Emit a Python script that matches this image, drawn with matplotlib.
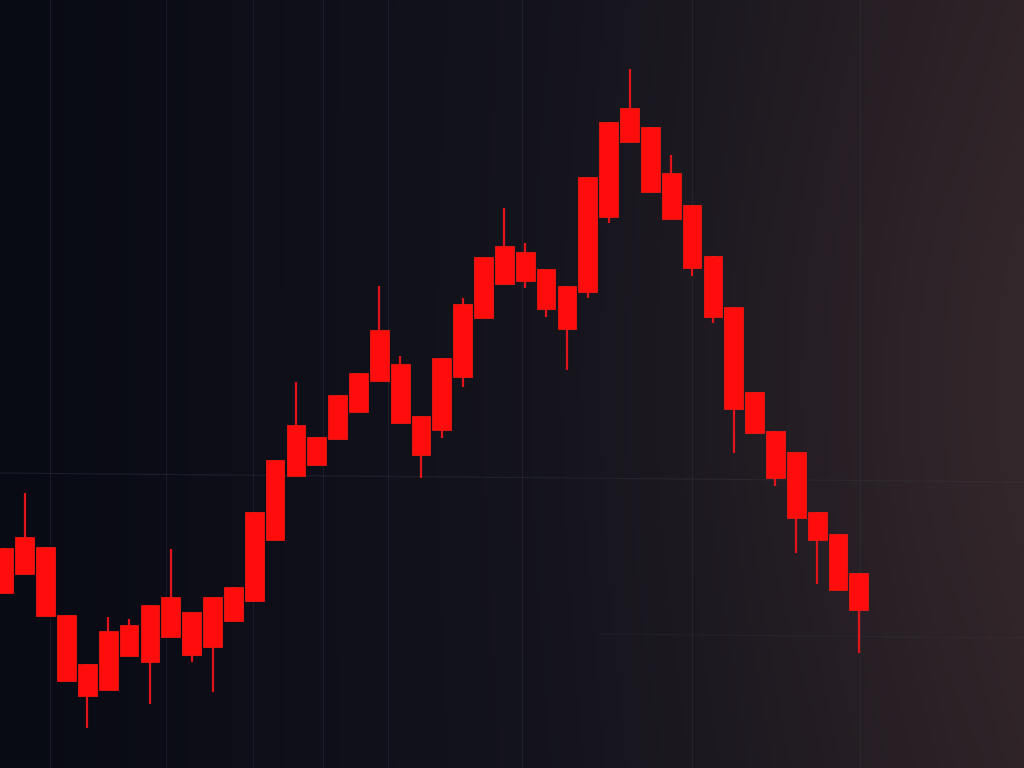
import numpy as np
import matplotlib.pyplot as plt

# Candle data (price units), all candles are down (red)
opens = [220, 231, 221, 153, 104, 137, 143, 163, 171, 156, 171, 181, 256, 308,
         343, 331, 373, 395, 438, 404, 352, 410, 464, 511, 522, 516, 499, 482,
         591, 646, 660, 641, 595, 563, 512, 461, 376, 337, 316, 256, 234, 195]
closes = [175, 194, 152, 87, 72, 78, 112, 106, 131, 113, 121, 147, 167, 228,
          292, 303, 329, 356, 387, 345, 313, 338, 391, 450, 484, 487, 459, 439,
          476, 551, 626, 576, 549, 500, 451, 359, 335, 290, 250, 228, 178, 158]
highs = [220, 275, 221, 153, 104, 151, 149, 163, 219, 156, 171, 181, 256, 308,
         386, 331, 373, 395, 482, 412, 352, 410, 470, 511, 560, 525, 499, 482,
         591, 646, 699, 641, 613, 563, 512, 461, 376, 337, 316, 256, 234, 195]
lows = [175, 194, 152, 87, 40, 78, 112, 64, 131, 106, 76, 147, 167, 228,
        292, 303, 329, 356, 387, 345, 290, 330, 381, 450, 484, 480, 451, 398,
        470, 545, 626, 576, 549, 492, 445, 315, 335, 282, 215, 184, 178, 115]

W, H = 1024, 768
fig = plt.figure(figsize=(10.24, 7.68), dpi=100)

# background gradient: deep navy on the left, warm dark brown on the right
bg = fig.add_axes([0, 0, 1, 1])
xs = np.linspace(0, 1, 256)
ys = np.linspace(0, 1, 192)
X, Y = np.meshgrid(xs, ys)
left = np.array([8, 10, 20]) / 255
mid = np.array([19, 19, 28]) / 255
right = np.array([44, 34, 38]) / 255
t = np.clip(X, 0, 1)
img = np.where((t < 0.5)[..., None],
               left + (mid - left) * (t / 0.5)[..., None],
               mid + (right - mid) * ((t - 0.5) / 0.5)[..., None] ** 1.2)
glow = np.exp(-((X - 1.0) ** 2 / 0.12 + (Y - 0.5) ** 2 / 0.25))
img = img + glow[..., None] * np.array([8, 5, 5]) / 255
bg.imshow(np.clip(img, 0, 1), extent=[0, W, H, 0], aspect='auto')
bg.set_xlim(0, W)
bg.set_ylim(H, 0)
bg.axis('off')

# faint grid lines
for gx in [50, 166, 253, 323, 388, 522, 692, 860]:
    bg.axvline(gx, color='#3a3c4a', lw=0.8, alpha=0.3)
bg.plot([0, W], [473, 482], color='#3a3c4a', lw=0.8, alpha=0.35)
bg.plot([600, W], [634, 638], color='#3a3c4a', lw=0.8, alpha=0.25)

# candles
ax = fig.add_axes([0, 0, 1, 1])
ax.patch.set_alpha(0)
x = np.arange(len(opens))
step, x0 = 20.85, 4.0
ax.set_xlim((0 - x0) / step, (W - x0) / step)
ax.set_ylim(0, H)

body_bottom = np.minimum(opens, closes)
body_height = np.abs(np.array(opens) - np.array(closes))
ax.vlines(x, lows, highs, color='#e0141a', lw=1.6, zorder=2)
ax.bar(x, body_height, bottom=body_bottom, width=0.9,
       color='#ff0d0d', edgecolor='#ff1a10', lw=0.5, zorder=3)
ax.axis('off')

fig.savefig('out.png', dpi=100)
